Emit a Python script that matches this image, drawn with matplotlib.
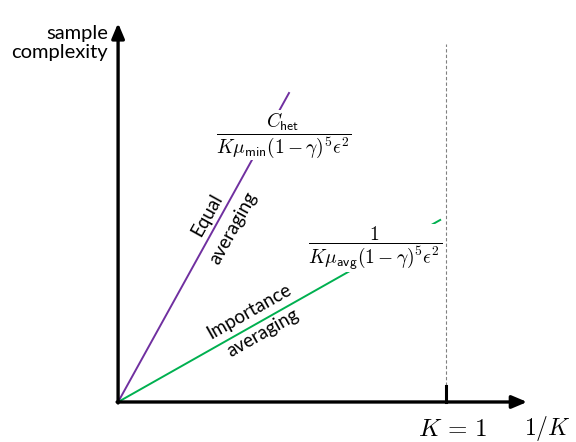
import matplotlib.pyplot as plt

plt.rcParams['mathtext.fontset'] = 'cm'
plt.rcParams['font.family'] = ['Lato', 'DejaVu Sans']

# scaling lines: x is 1/K, y is sample complexity (arbitrary units)
inv_k = [0.0, 0.521, 0.982]
equal_avg = [0.0, 0.942]
importance_avg = [0.0, 0.555]
k_one = 1.0

fig = plt.figure(figsize=(5.76, 4.42), dpi=100)
ax = fig.add_axes([0, 0, 1, 1])
ax.set_xlim(-0.36, 1.396)
ax.set_ylim(-0.122, 1.2256)
ax.axis('off')

purple = '#7030A0'
green = '#00B050'

ax.plot(inv_k[:2], equal_avg, color=purple, lw=1.4, zorder=2)
ax.plot([inv_k[0], inv_k[2]], importance_avg, color=green, lw=1.4, zorder=2)

# K = 1 marker
ax.plot([k_one, k_one], [0, 1.09], color='gray', lw=0.8, ls=(0, (3, 2)), zorder=1)
ax.plot([k_one, k_one], [0, 0.05], color='black', lw=2.2, zorder=3)

# axes arrows
ax.annotate('', xy=(1.247, 0), xytext=(-0.003, 0),
            arrowprops=dict(arrowstyle='-|>,head_length=0.9,head_width=0.38',
                            color='black', lw=2.4, shrinkA=0, shrinkB=0))
ax.annotate('', xy=(0, 1.155), xytext=(0, -0.003),
            arrowprops=dict(arrowstyle='-|>,head_length=0.9,head_width=0.38',
                            color='black', lw=2.4, shrinkA=0, shrinkB=0))

ax.text(-0.03, 1.095, 'sample\ncomplexity', ha='right', va='center',
        fontsize=14.5, linespacing=1.15)
ax.text(k_one + 0.02, -0.08, r'$K\,=\,1$', ha='center', va='center', fontsize=18)
ax.text(1.31, -0.08, r'$1/K$', ha='center', va='center', fontsize=17)

box = dict(facecolor='white', edgecolor='none', pad=0)
ax.text(0.504, 0.813,
        r'$\dfrac{C_{\mathsf{het}}}{K\mu_{\mathsf{min}}(1-\gamma)^5\epsilon^2}$',
        ha='center', va='center', fontsize=14, bbox=box, zorder=4)
ax.text(0.784, 0.47,
        r'$\dfrac{1}{K\mu_{\mathsf{avg}}(1-\gamma)^5\epsilon^2}$',
        ha='center', va='center', fontsize=14, bbox=box, zorder=4)

ax.text(0.27, 0.57, 'Equal', rotation=61, ha='center', va='center',
        fontsize=13.5, rotation_mode='anchor')
ax.text(0.35, 0.53, 'averaging', rotation=61, ha='center', va='center',
        fontsize=13.5, rotation_mode='anchor')
ax.text(0.40, 0.275, 'Importance', rotation=29.5, ha='center', va='center',
        fontsize=13.5, rotation_mode='anchor')
ax.text(0.44, 0.21, 'averaging', rotation=29.5, ha='center', va='center',
        fontsize=13.5, rotation_mode='anchor')

fig.savefig('out.png', dpi=100)
